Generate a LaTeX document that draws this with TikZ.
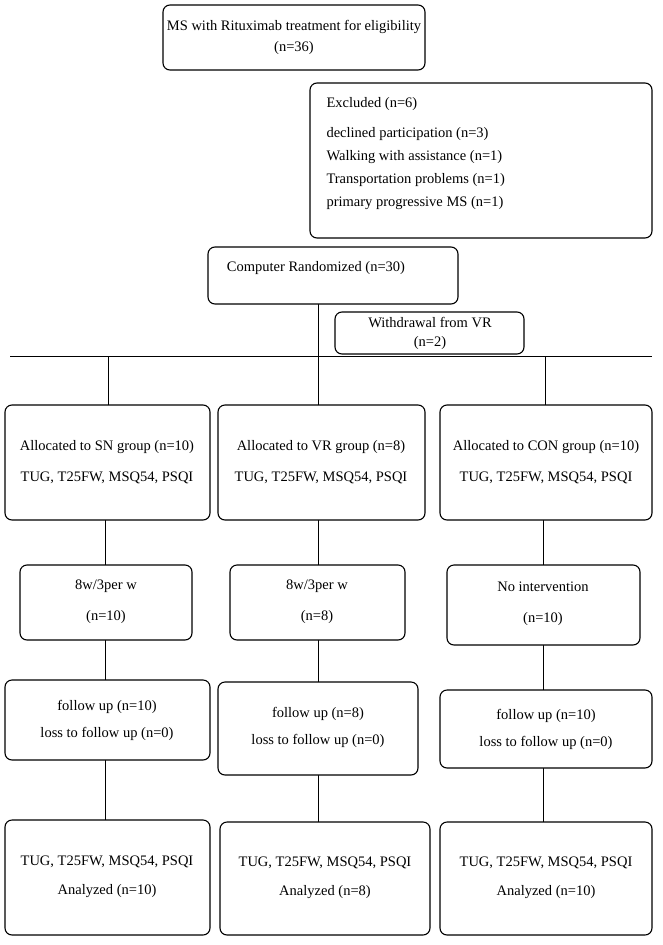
\documentclass[tikz,border=0pt]{standalone}
\usepackage{fontspec}
\setmainfont{Liberation Serif}
\begin{document}
\begin{tikzpicture}[x=1pt,y=-1pt,
  bx/.style={draw,line width=1.1pt,rounded corners=7pt,fill=white},
  tx/.style={font=\fontsize{14.5}{17}\selectfont,align=center},
  ln/.style={line width=0.7pt}]
\useasboundingbox (0,0) rectangle (662,945);
\coordinate (h1) at (10,356); \coordinate (h2) at (652,356);
\draw[ln] (h1) -- (h2);
\draw[ln] (318,304) -- (318,356);
\foreach \x/\a/\b in {108/356/405, 318/356/405, 545/356/405,
   105/520/565, 318/520/565, 543/520/565,
   105/640/680, 318/640/682, 543/645/690,
   105/760/820, 318/775/822, 543/768/822}
  \draw[ln] (\x,\a) -- (\x,\b);
\draw[bx] (163,5) rectangle (425,70);
\node[tx] (top) at (294,37) {MS with Rituximab treatment for eligibility\\[4pt](n=36)};
\draw[bx] (310,83) rectangle (652,238);
\node[font=\fontsize{14.5}{23}\selectfont,align=left,anchor=north west] (ex) at (323,94)
 {Excluded (n=6)\\[7pt]declined participation (n=3)\\Walking with assistance (n=1)\\Transportation problems (n=1)\\primary progressive MS (n=1)};
\draw[bx] (208,247) rectangle (458,304);
\node[tx] (rand) at (316,268) {Computer Randomized (n=30)};
\draw[bx] (335,312) rectangle (524,354);
\node[tx] (wd) at (430,333) {Withdrawal from VR\\[2pt](n=2)};
\draw[bx] (5,405) rectangle (210,520);
\node[tx] (a1) at (107,462) {Allocated to SN group (n=10)\\[14pt]TUG, T25FW, MSQ54, PSQI};
\draw[bx] (218,405) rectangle (425,520);
\node[tx] (b1) at (321,462) {Allocated to VR group (n=8)\\[14pt]TUG, T25FW, MSQ54, PSQI};
\draw[bx] (440,405) rectangle (652,520);
\node[tx] (c1) at (546,462) {Allocated to CON group (n=10)\\[14pt]TUG, T25FW, MSQ54, PSQI};
\draw[bx] (20,565) rectangle (192,640);
\node[tx] (a2) at (106,602) {8w/3per w\\[14pt](n=10)};
\draw[bx] (230,565) rectangle (405,640);
\node[tx] (b2) at (317,602) {8w/3per w\\[14pt](n=8)};
\draw[bx] (447,565) rectangle (640,645);
\node[tx] (c2) at (543,604) {No intervention\\[14pt](n=10)};
\draw[bx] (5,680) rectangle (210,760);
\node[tx] (a3) at (107,720) {follow up (n=10)\\[10pt]loss to follow up (n=0)};
\draw[bx] (218,682) rectangle (418,775);
\node[tx] (b3) at (318,727) {follow up (n=8)\\[10pt]loss to follow up (n=0)};
\draw[bx] (440,690) rectangle (652,768);
\node[tx] (c3) at (546,729) {follow up (n=10)\\[10pt]loss to follow up (n=0)};
\draw[bx] (5,820) rectangle (210,935);
\node[tx] (a4) at (107,877) {TUG, T25FW, MSQ54, PSQI\\[12pt]Analyzed (n=10)};
\draw[bx] (220,822) rectangle (430,935);
\node[tx] (b4) at (325,878) {TUG, T25FW, MSQ54, PSQI\\[12pt]Analyzed (n=8)};
\draw[bx] (440,822) rectangle (652,935);
\node[tx] (c4) at (546,878) {TUG, T25FW, MSQ54, PSQI\\[12pt]Analyzed (n=10)};
\end{tikzpicture}
\end{document}
